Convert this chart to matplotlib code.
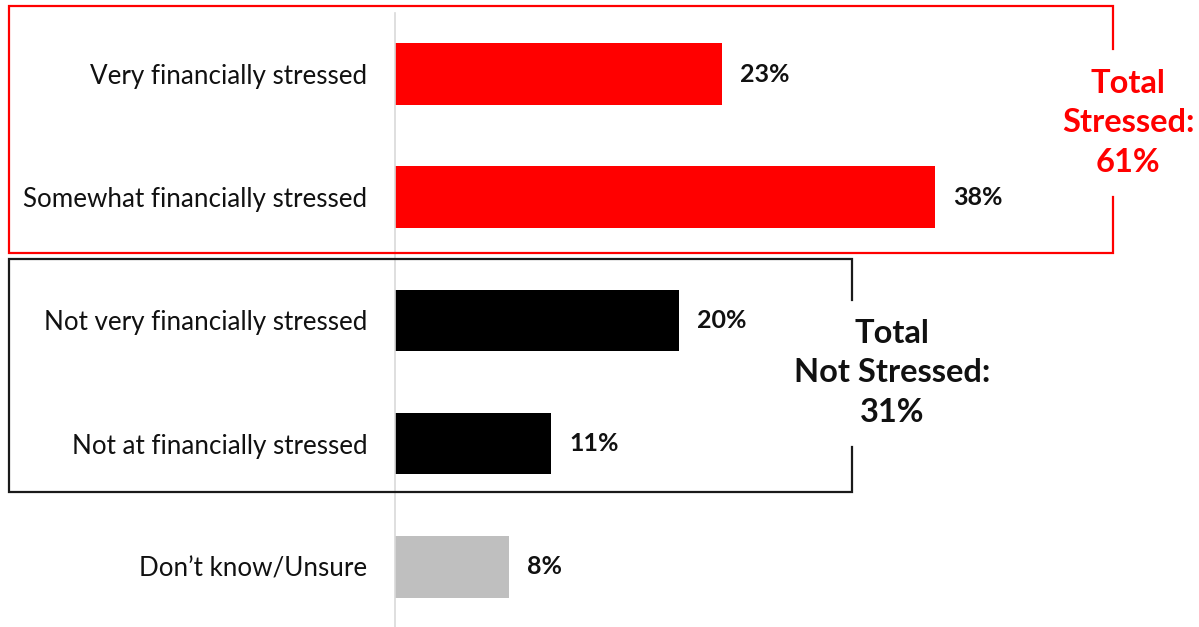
import matplotlib.pyplot as plt
from matplotlib.lines import Line2D

categories = ['Very financially stressed', 'Somewhat financially stressed',
              'Not very financially stressed', 'Not at financially stressed',
              'Don\u2019t know/Unsure']
values = [23, 38, 20, 11, 8]
bar_colors = ['#FF0000', '#FF0000', '#000000', '#000000', '#BFBFBF']
value_labels = ['23%', '38%', '20%', '11%', '8%']
total_stressed = 'Total\nStressed:\n61%'
total_not_stressed = 'Total\nNot Stressed:\n31%'

plt.rcParams['font.family'] = ['Lato', 'DejaVu Sans']

W, H = 1199, 627
fig = plt.figure(figsize=(W / 100, H / 100), dpi=100)

# axes starts at the grey zero line (x=395px), fills full height
ax = fig.add_axes([395 / W, 0, 1 - 395 / W, 1])
ax.barh(range(len(values)), values, height=0.5, color=bar_colors)
ax.set_xlim(0, (W - 395) / 14.21)
ax.set_ylim((H - 74) / 123.2, -74 / 123.2)

ax.set_yticks(range(len(categories)))
ax.set_yticklabels(categories, fontsize=18.7, color='#111111')
ax.tick_params(axis='y', length=0, pad=20)
ax.set_xticks([])
for s in ['top', 'right', 'bottom']:
    ax.spines[s].set_visible(False)
ax.spines['left'].set_color('#D9D9D9')
ax.spines['left'].set_linewidth(1.2)
ax.spines['left'].set_bounds(-61 / 123.2, (H - 74) / 123.2)

for i, v in enumerate(values):
    ax.annotate(value_labels[i], (v, i), xytext=(13, 0), textcoords='offset points',
                ha='left', va='center', fontsize=18, fontweight='bold', color='#111111')


def px_line(xs, ys, color):
    fig.add_artist(Line2D([x / W for x in xs], [1 - y / H for y in ys],
                          transform=fig.transFigure, color=color, lw=1.6,
                          solid_capstyle='projecting', solid_joinstyle='miter'))


# red bracket box
px_line([1113, 1113, 9, 9, 1113, 1113], [49, 6, 6, 253, 253, 197], '#FF0000')
# black bracket box
px_line([852, 852, 9, 9, 852, 852], [300, 259, 259, 492, 492, 447], '#1A1A1A')

fig.text(1128 / W, 1 - 123 / H, total_stressed, ha='center', va='center',
         fontsize=23.5, fontweight='bold', color='#FF0000', linespacing=1.45)
fig.text(892 / W, 1 - 373 / H, total_not_stressed, ha='center', va='center',
         fontsize=23.5, fontweight='bold', color='#111111', linespacing=1.45)

fig.savefig('out.png', dpi=100)
